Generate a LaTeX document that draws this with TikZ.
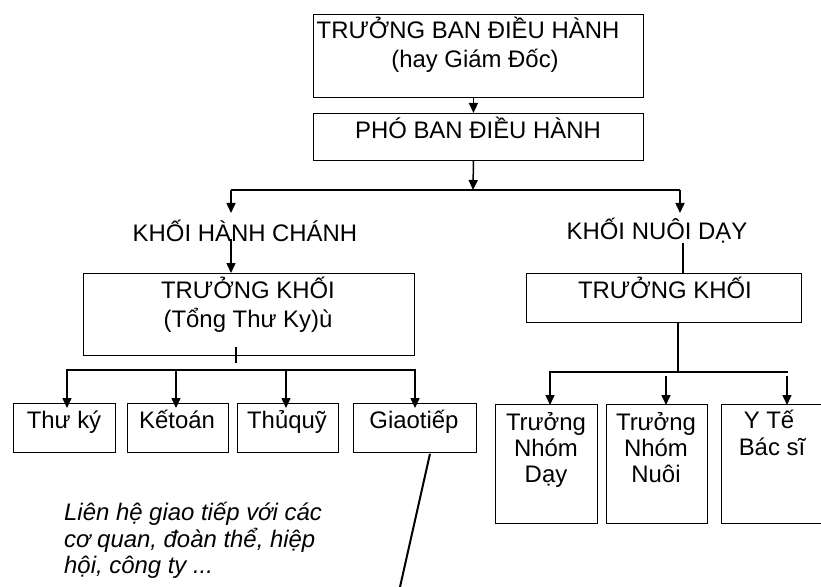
\documentclass[tikz,border=0pt]{standalone}
\usepackage{fontspec}
\setmainfont{Liberation Sans}
\usetikzlibrary{arrows.meta,calc}
\begin{document}
\begin{tikzpicture}[x=1bp,y=-1bp,
  box/.style={draw, line width=0.9bp, inner sep=0pt, anchor=north west},
  txt/.style={font=\fontsize{24}{28}\selectfont, inner sep=0pt, anchor=base},
  itx/.style={font=\fontsize{24}{28}\selectfont\itshape, inner sep=0pt, anchor=base west},
  arr/.style={line width=1.5bp, -{Triangle[length=10bp,width=9bp]}},
  thick bus/.style={line width=2.8bp},
  thin bus/.style={line width=2bp}]
\useasboundingbox (0,0) rectangle (821,587);

% top boxes
\node[box, minimum width=330bp, minimum height=83bp] (ceo) at (313,14) {};
\node[txt] (ceo1) at (468,39) {TRƯỞNG BAN ĐIỀU HÀNH};
\node[txt] (ceo2) at (475,68) {(hay Giám Đốc)};
\node[box, minimum width=330bp, minimum height=47bp] (pho) at (313,113) {};
\node[txt] (phot) at (478,139) {PHÓ BAN ĐIỀU HÀNH};

\draw[arr] ([xshift=-5bp]ceo.south) -- ([xshift=-5bp]pho.north);
\coordinate (busT) at (473,190);
\coordinate (bL) at (231,190);
\coordinate (bR) at (680,190);
\draw[arr] ([xshift=-5bp]pho.south) -- (busT);
\draw[thin bus] (bL) -- (bR);

% left branch
\node[txt] (khc) at (245,242) {KHỐI HÀNH CHÁNH};
\draw[arr] (bL) -- (231,213);
\node[box, minimum width=331bp, minimum height=82bp] (tkL) at (83,273) {};
\node[txt] (tkL1) at (248,298) {TRƯỞNG KHỐI};
\node[txt] (tkL2) at (248,327) {(Tổng Thư Ky)ù};
\draw[arr] ([yshift=3bp]khc.base -| bL) -- (tkL.north -| bL);

\coordinate (lt) at (236,347);
\coordinate (lb1) at (67,370);
\coordinate (lb2) at (176,370);
\coordinate (lb3) at (286,370);
\coordinate (lb4) at (415,370);
\draw[thick bus] (lt) -- (236,363);
\draw[thick bus] ([xshift=-1bp]lb1) -- ([xshift=1bp]lb4);

\node[box, minimum width=102bp, minimum height=49bp] (thuky) at (13,403) {};
\node[box, minimum width=101bp, minimum height=49bp] (ketoan) at (127,403) {};
\node[box, minimum width=101bp, minimum height=49bp] (thuquy) at (237,403) {};
\node[box, minimum width=123bp, minimum height=49bp] (giao) at (353,403) {};
\node[txt] at (64,428) {Thư ký};
\node[txt] at (177,428) {Kếtoán};
\node[txt] at (287,428) {Thủquỹ};
\node[txt] at (414,428) {Giaotiếp};
\draw[arr] (lb1) -- ([yshift=-5bp]thuky.north -| lb1);
\draw[arr] (lb2) -- ([yshift=-5bp]ketoan.north -| lb2);
\draw[arr] (lb3) -- ([yshift=-5bp]thuquy.north -| lb3);
\draw[arr] (lb4) -- ([yshift=-5bp]giao.north -| lb4);

\node[itx] (note1) at (64,520) {Liên hệ giao tiếp với các};
\node[itx] (note2) at (64,547) {cơ quan, đoàn thể, hiệp};
\node[itx] (note3) at (64,573) {hội, công ty ...};
\coordinate (gEnd) at (400,587);
\draw[line width=2bp] ([xshift=15bp,yshift=-1bp]giao.south) -- (gEnd);

% right branch
\node[txt] (knd) at (657,240) {KHỐI NUÔI DẠY};
\draw[arr] (bR) -- (680,213);
\node[box, minimum width=275bp, minimum height=49bp] (tkR) at (526,273) {};
\node[txt] (tkRt) at (665,298) {TRƯỞNG KHỐI};
\draw[thin bus] (683,243) -- (tkR.north -| 683,0);
\coordinate (rv) at (678,372);
\draw[thick bus] (tkR.south -| rv) -- (rv);
\coordinate (rb1) at (550,372);
\coordinate (rb2) at (666,376);
\coordinate (rb3) at (787,376);
\draw[thick bus] ([xshift=-1bp]rb1) -- (788,372);

\node[box, minimum width=102bp, minimum height=119bp] (nd) at (495,404) {};
\node[box, minimum width=101bp, minimum height=119bp] (nn) at (606,404) {};
\node[box, minimum width=101bp, minimum height=119bp] (yt) at (721,404) {};
\node[txt] at (546,430) {Trưởng};
\node[txt] at (546,456) {Nhóm};
\node[txt] at (546,482) {Dạy};
\node[txt] at (656,430) {Trưởng};
\node[txt] at (656,456) {Nhóm};
\node[txt] at (656,482) {Nuôi};
\node[txt] at (769,428) {Y Tế};
\node[txt] at (772,455) {Bác sĩ};
\draw[arr] (rb1) -- ([yshift=-1bp]nd.north -| rb1);
\draw[arr] (rb2) -- ([yshift=-1bp]nn.north -| rb2);
\draw[arr] (rb3) -- ([yshift=-1bp]yt.north -| rb3);
\end{tikzpicture}
\end{document}
